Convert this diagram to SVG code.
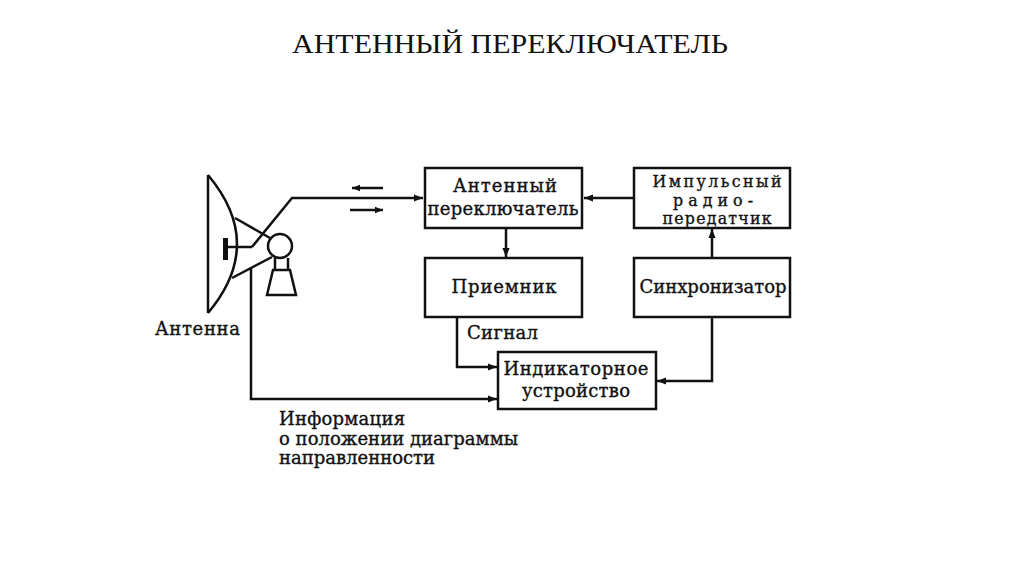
<svg xmlns="http://www.w3.org/2000/svg" width="1024" height="574" viewBox="0 0 1024 574">
<defs>
<style>
.box{fill:#fff;stroke:#111;stroke-width:2.5}
.ln{fill:none;stroke:#111;stroke-width:2.5}
.t{font-family:"DejaVu Serif","Liberation Serif",serif;font-size:18px;fill:#111;stroke:#111;stroke-width:0.35}
.s{font-size:15.8px}
.c{text-anchor:middle}
.title{font-family:"Liberation Serif","Times New Roman",serif;font-size:27px;fill:#111;text-anchor:middle}
</style>
<marker id="ah" viewBox="0 0 10 10" refX="10" refY="5" markerWidth="12" markerHeight="9" orient="auto" markerUnits="userSpaceOnUse">
<path d="M0,1 L10,5 L0,9 z" fill="#111"/>
</marker>
<marker id="ahs" viewBox="0 0 10 10" refX="10" refY="5" markerWidth="13" markerHeight="8" orient="auto" markerUnits="userSpaceOnUse">
<path d="M0,1 L10,5 L0,9 z" fill="#111"/>
</marker>
</defs>
<rect width="1024" height="574" fill="#fff"/>
<text class="title" x="510" y="53" textLength="436" lengthAdjust="spacingAndGlyphs">АНТЕННЫЙ ПЕРЕКЛЮЧАТЕЛЬ</text>

<g id="antenna">
<path class="ln" d="M208,175 L208,313"/>
<path class="ln" d="M208,175 Q266,244 208,313"/>
<path class="ln" d="M235,218 L270,238"/>
<path class="ln" d="M232,278 L272,257"/>
<rect x="223" y="238" width="5" height="22" fill="#111"/>
<path class="ln" d="M226,247 L252,247"/>
<circle cx="280" cy="246" r="12" fill="#fff" stroke="#111" stroke-width="2.5"/>
<path class="ln" d="M275,258 L275,270 M288,258 L288,270"/>
<path class="ln" d="M273,270 L290,270 L296,295 L267,295 Z"/>
<text class="t" x="155" y="335" textLength="85" lengthAdjust="spacing">Антенна</text>
</g>

<g id="switch">
<rect class="box" x="425" y="168" width="157" height="60"/>
<text class="t c" x="505" y="192" textLength="104" lengthAdjust="spacing">Антенный</text>
<text class="t c" x="503" y="215" textLength="151" lengthAdjust="spacing">переключатель</text>
</g>

<g id="transmitter">
<rect class="box" x="634" y="168" width="156" height="60"/>
<text class="t s c" x="717" y="187" textLength="129" lengthAdjust="spacing">Импульсный</text>
<text class="t s c" x="713" y="205.5" textLength="80" lengthAdjust="spacing">радио-</text>
<text class="t s c" x="717" y="224" textLength="109" lengthAdjust="spacing">передатчик</text>
</g>

<g id="receiver">
<rect class="box" x="425" y="258" width="157" height="59"/>
<text class="t c" x="504" y="293" textLength="105" lengthAdjust="spacing">Приемник</text>
</g>

<g id="sync">
<rect class="box" x="634" y="258" width="156" height="59"/>
<text class="t c" x="713" y="293" textLength="147" lengthAdjust="spacing">Синхронизатор</text>
</g>

<g id="indicator">
<rect class="box" x="498" y="352" width="158" height="57"/>
<text class="t c" x="576" y="375" textLength="145" lengthAdjust="spacing">Индикаторное</text>
<text class="t c" x="576" y="397" textLength="108" lengthAdjust="spacing">устройство</text>
</g>

<g id="connectors">
<path class="ln" d="M252,247 L292,198 L423,198" marker-end="url(#ah)"/>
<path class="ln" d="M383,188 L352,188" stroke-width="2" marker-end="url(#ahs)"/>
<path class="ln" d="M350,210 L383,210" stroke-width="2" marker-end="url(#ahs)"/>
<path class="ln" d="M634,198 L584,198" marker-end="url(#ah)"/>
<path class="ln" d="M506,228 L506,257" marker-end="url(#ah)"/>
<path class="ln" d="M712,258 L712,229" marker-end="url(#ah)"/>
<path class="ln" d="M457,317 L457,367 L497,367" marker-end="url(#ah)"/>
<path class="ln" d="M712,317 L712,381 L657,381" marker-end="url(#ah)"/>
<path class="ln" d="M251,269 L251,399 L497,399" marker-end="url(#ah)"/>
<text class="t" x="467" y="339" textLength="71" lengthAdjust="spacing">Сигнал</text>
<text class="t" x="279" y="425" textLength="126" lengthAdjust="spacing">Информация</text>
<text class="t" x="279" y="445" textLength="239" lengthAdjust="spacing">о положении диаграммы</text>
<text class="t" x="279" y="464" textLength="156" lengthAdjust="spacing">направленности</text>
</g>
</svg>
